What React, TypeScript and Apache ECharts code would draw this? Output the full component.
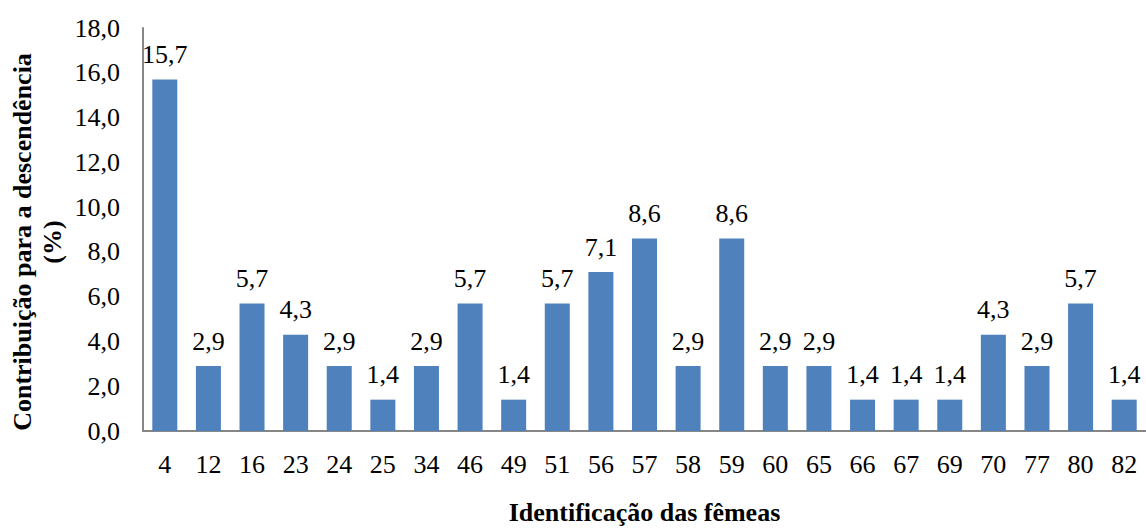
import React, { useEffect, useRef } from "react";
import * as echarts from "echarts";

const categories = ["4", "12", "16", "23", "24", "25", "34", "46", "49", "51", "56", "57", "58", "59", "60", "65", "66", "67", "69", "70", "77", "80", "82"];
const values = [15.7, 2.9, 5.7, 4.3, 2.9, 1.4, 2.9, 5.7, 1.4, 5.7, 7.1, 8.6, 2.9, 8.6, 2.9, 2.9, 1.4, 1.4, 1.4, 4.3, 2.9, 5.7, 1.4];
const yTitle = "Contribuição para a descendência\n(%)";
const xTitle = "Identificação das fêmeas";

const FONT = "Times New Roman, Liberation Serif, serif";
const fmt = (v: number) => v.toFixed(1).replace(".", ",");

export default function App() {
  const ref = useRef<HTMLDivElement>(null);
  useEffect(() => {
    if (!ref.current) return;
    const chart = echarts.init(ref.current, null, { renderer: "svg" });
    chart.setOption({
      animation: false,
      grid: { left: 143, right: -5, top: 28, bottom: 82, containLabel: false },
      xAxis: {
        type: "category",
        data: categories,
        axisLine: { show: true, lineStyle: { color: "#868686", width: 2 } },
        axisTick: { show: false },
        axisLabel: { color: "#000", fontFamily: FONT, fontSize: 26, margin: 20 },
        name: xTitle,
        nameLocation: "middle",
        nameGap: 68,
        nameTextStyle: { color: "#000", fontFamily: FONT, fontSize: 26, fontWeight: "bold" },
      },
      yAxis: {
        type: "value",
        min: 0,
        max: 18,
        interval: 2,
        axisLine: { show: true, lineStyle: { color: "#868686", width: 2 } },
        axisTick: { show: false },
        splitLine: { show: false },
        axisLabel: {
          color: "#000",
          fontFamily: FONT,
          fontSize: 26,
          margin: 23,
          padding: [0, 0, 8, 0],
          formatter: (v: number) => fmt(v),
        },
      },
      graphic: [
        {
          type: "text",
          x: 37,
          y: 242,
          rotation: Math.PI / 2,
          style: {
            text: yTitle,
            fill: "#000",
            fontFamily: FONT,
            fontSize: 26,
            fontWeight: "bold",
            textAlign: "center",
            textVerticalAlign: "middle",
            lineHeight: 30,
          },
        },
      ],
      series: [
        {
          type: "bar",
          data: values,
          barWidth: 25,
          itemStyle: { color: "#4F81BD" },
          label: {
            show: true,
            position: "top",
            distance: 12,
            color: "#000",
            fontFamily: FONT,
            fontSize: 26,
            formatter: (p: any) => fmt(p.value),
          },
        },
      ],
    });
    return () => chart.dispose();
  }, []);
  return <div ref={ref} style={{ position: "absolute", left: 0, top: 0, width: 1146, height: 530 }} />;
}
